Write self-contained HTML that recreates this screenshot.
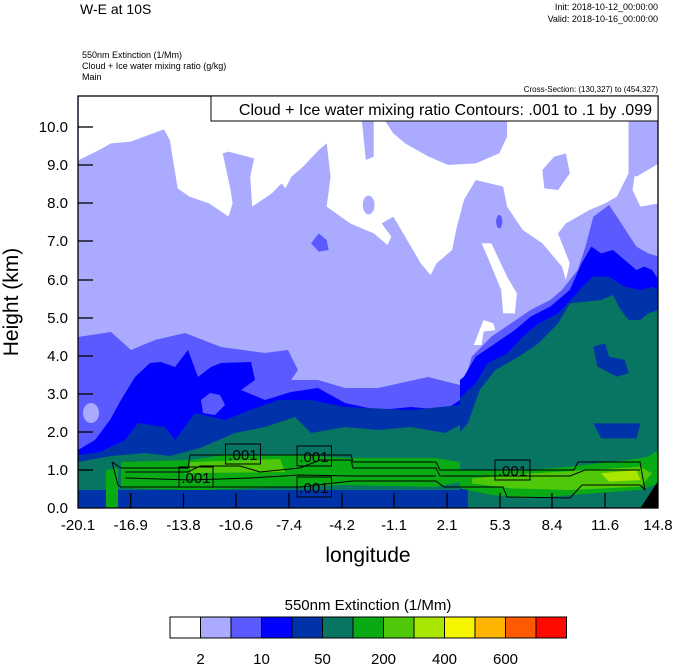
<!DOCTYPE html>
<html><head><meta charset="utf-8"><style>
body{margin:0;background:#fff;}
svg text{font-family:"Liberation Sans",sans-serif;}
</style></head><body>
<svg width="674" height="667" viewBox="0 0 674 667" xmlns="http://www.w3.org/2000/svg">
<defs><clipPath id="pc"><rect x="78" y="96" width="580" height="412"/></clipPath>
<clipPath id="lc"><rect x="78" y="325" width="382" height="183"/></clipPath></defs>
<text x="80" y="14" font-size="14">W-E at 10S</text>
<text x="658" y="10" font-size="9" text-anchor="end">Init: 2018-10-12_00:00:00</text>
<text x="658" y="22" font-size="9" text-anchor="end">Valid: 2018-10-16_00:00:00</text>
<text x="82" y="58" font-size="9">550nm Extinction   (1/Mm)</text>
<text x="82" y="69" font-size="9">Cloud + Ice water mixing ratio   (g/kg)</text>
<text x="82" y="80" font-size="9">Main</text>
<text x="658" y="92" font-size="8" text-anchor="end">Cross-Section: (130,327) to (454,327)</text>
<g clip-path="url(#pc)">
<rect x="78" y="96" width="580" height="412" fill="#aaaaff"/>
<g transform="translate(60,90) scale(0.39216,0.33333)">
<polygon fill="#fff" points="48,0 1527,0 1527,340 1480,350 1460,300 1470,220 1450,95 1450,250 1420,320 1390,340 1350,360 1290,400 1270,430 1300,520 1290,570 1280,530 1230,460 1180,420 1140,350 1130,290 1060,270 1030,330 1010,420 1000,480 960,520 945,555 920,520 880,440 850,380 820,400 845,440 835,465 800,430 740,400 680,350 690,260 680,160 660,180 620,230 590,260 575,295 565,280 540,310 490,350 485,260 495,205 430,185 415,190 435,300 440,340 430,380 380,340 330,320 300,295 280,150 265,118 180,155 130,160 100,180 48,210"/>
<polygon fill="#aaaaff" points="770,95 800,95 800,200 780,210"/>
<polygon fill="#aaaaff" points="830,95 1140,95 1140,140 1120,190 1060,220 990,225 940,200 880,160 850,130"/>
<polygon fill="#aaaaff" points="1230,240 1260,200 1290,190 1300,250 1270,300 1235,295"/>
<ellipse cx="787" cy="345" rx="15" ry="28" fill="#aaaaff"/>
<polygon fill="#aaaaff" points="1450,95 1527,95 1527,220 1470,260 1450,250"/>
<polygon fill="#fff" points="1075,460 1100,460 1140,560 1165,610 1160,670 1130,670 1125,600 1090,500"/>
<polygon fill="#fff" points="1055,765 1080,690 1105,700 1110,720 1080,725 1075,765"/>
<polygon fill="#5a5aff" points="640,460 660,430 680,450 685,480 660,485"/>
<ellipse cx="1120" cy="395" rx="8" ry="20" fill="#5a5aff"/>
<polygon fill="#5a5aff" points="48,740 80,730 130,725 150,760 190,790 260,780 330,790 400,770 460,760 520,770 560,800 600,820 620,840 590,860 620,870 660,850 720,880 780,860 850,870 900,850 960,850 1000,860 1030,880 1050,800 1100,740 1150,700 1200,660 1250,630 1280,600 1320,540 1340,470 1360,380 1400,345 1420,380 1470,470 1500,490 1527,500 1527,1254 48,1254"/>
<polygon fill="#0000ff" points="990,900 1030,860 1060,800 1110,760 1160,720 1200,680 1250,650 1300,600 1330,520 1355,470 1380,490 1410,480 1440,510 1470,540 1490,530 1510,540 1527,570 1527,1254 980,1254"/>
<polygon fill="#0033aa" points="1000,950 1040,900 1060,880 1090,820 1140,790 1180,740 1220,700 1270,670 1310,620 1340,580 1360,560 1400,560 1440,590 1480,600 1510,590 1527,600 1527,1254 980,1254"/>
<polygon fill="#077562" points="1000,1050 1040,1000 1070,900 1110,840 1170,800 1220,760 1270,700 1300,640 1340,635 1380,630 1410,615 1430,660 1450,690 1480,690 1500,670 1527,660 1527,1254 1040,1254 1040,1190 980,1190"/>
<polygon fill="#0033aa" points="1360,770 1390,760 1400,800 1440,810 1450,850 1420,860 1370,830"/>
<polygon fill="#0033aa" points="1360,1000 1480,1000 1470,1045 1380,1045"/>
<polygon fill="#0aaa14" points="950,1120 980,1140 1200,1140 1300,1130 1450,1110 1500,1100 1527,1080 1527,1180 1480,1200 1300,1215 1200,1225 1100,1215 1000,1190 950,1185"/>
<polygon fill="#50c80a" points="1050,1165 1200,1150 1350,1140 1480,1130 1510,1150 1480,1190 1300,1200 1150,1195 1050,1180"/>
<polygon fill="#a8e600" points="1380,1150 1470,1140 1480,1170 1400,1175"/>
<polygon fill="#000" points="1480,1254 1527,1170 1527,1254"/>
</g>
<g clip-path="url(#lc)">
<rect x="78" y="325" width="382" height="183" fill="#aaaaff"/>
<polygon fill="#5a5aff" points="78,337 111,332 131,350 155,340 185,333 221,347 265,353 288,350 298,370 291,380 318,380 345,388 378,388 428,377 460,385 460,508 78,508"/>
<ellipse cx="91" cy="413" rx="8" ry="10" fill="#aaaaff"/>
<polygon fill="#0000ff" points="78,450 95,440 110,420 121,400 135,377 150,363 161,362 175,367 188,350 198,377 211,367 221,363 251,362 255,380 241,390 265,400 291,392 318,388 345,403 378,410 411,407 445,410 460,400 460,508 78,508"/>
<polygon fill="#5a5aff" points="201,400 210,393 220,395 225,405 215,415 203,413"/>
<polygon fill="#0033aa" points="78,455 100,452 125,440 138,423 165,427 175,440 195,413 225,420 250,410 278,400 311,400 345,407 411,410 460,405 460,508 78,508"/>
<polygon fill="#077562" points="78,462 111,456 145,453 170,456 200,448 235,433 265,427 295,417 311,433 345,427 378,430 411,427 445,433 460,425 460,508 78,508"/>
<rect x="78" y="490" width="382" height="18" fill="#0033aa"/>
<polygon fill="#0aaa14" points="121,462 190,460 225,455 300,455 345,458 435,458 460,462 460,482 435,487 345,485 300,487 255,488 200,490 121,488"/>
<polygon fill="#0aaa14" points="106,470 118,468 118,508 106,508"/>
<polygon fill="#50c80a" points="190,462 280,459 285,472 190,473"/>
</g>
<g fill="none" stroke="#000" stroke-width="1">
<polyline points="112,462 121,468 188,468 190,455 351,455 353,462 436,462 440,470 574,470 578,462 640,462 645,490"/>
<polyline points="112,462 118,485 121,487 300,487 352,481 436,481 444,487 503,487 507,497 570,498 582,485 640,485 645,490"/>
<polyline points="125,472 188,472 200,466 240,466 260,472 300,468 320,460 351,460 353,468 436,468 440,476 570,476 585,470 640,470"/>
<polyline points="125,478 190,480 250,478 300,475 351,476 436,476"/>
</g>
</g>
<rect x="78" y="96" width="580" height="412" fill="none" stroke="#000" stroke-width="1.3"/>
<g fill="none" stroke="#000" stroke-width="1">
<rect x="179" y="467" width="34" height="20"/>
<rect x="225.5" y="444" width="35" height="20"/>
<rect x="297" y="446" width="34.5" height="20"/>
<rect x="297" y="477" width="34.5" height="20"/>
<rect x="495" y="460" width="35" height="20"/>
</g>
<rect x="211" y="96" width="447" height="25" fill="#fff" stroke="#000" stroke-width="1"/>
<text x="652" y="115" font-size="16" text-anchor="end">Cloud + Ice water mixing ratio Contours: .001 to .1 by .099</text>
<g font-size="15" text-anchor="middle">
<text x="196" y="483">.001</text><text x="243" y="460">.001</text><text x="314" y="462">.001</text><text x="314" y="493">.001</text><text x="512.5" y="476">.001</text>
</g>
<g stroke="#000" stroke-width="1.3">
<line x1="78" y1="470" x2="93" y2="470"/><line x1="78" y1="432" x2="93" y2="432"/><line x1="78" y1="394" x2="93" y2="394"/><line x1="78" y1="356" x2="93" y2="356"/><line x1="78" y1="318" x2="93" y2="318"/><line x1="78" y1="280" x2="93" y2="280"/><line x1="78" y1="241" x2="93" y2="241"/><line x1="78" y1="203" x2="93" y2="203"/><line x1="78" y1="165" x2="93" y2="165"/><line x1="78" y1="127" x2="93" y2="127"/>
<line x1="130.7" y1="508" x2="130.7" y2="493"/><line x1="183.5" y1="508" x2="183.5" y2="493"/><line x1="236" y1="508" x2="236" y2="493"/><line x1="289" y1="508" x2="289" y2="493"/><line x1="342" y1="508" x2="342" y2="493"/><line x1="394" y1="508" x2="394" y2="493"/><line x1="447" y1="508" x2="447" y2="493"/><line x1="500" y1="508" x2="500" y2="493"/><line x1="552" y1="508" x2="552" y2="493"/><line x1="605" y1="508" x2="605" y2="493"/>
</g>
<g font-size="15" text-anchor="end">
<text x="68" y="513">0.0</text><text x="68" y="475">1.0</text><text x="68" y="437">2.0</text><text x="68" y="399">3.0</text><text x="68" y="361">4.0</text><text x="68" y="323">5.0</text><text x="68" y="285">6.0</text><text x="68" y="246">7.0</text><text x="68" y="208">8.0</text><text x="68" y="170">9.0</text><text x="68" y="132">10.0</text>
</g>
<g font-size="15" text-anchor="middle">
<text x="78" y="530">-20.1</text><text x="130.7" y="530">-16.9</text><text x="183.5" y="530">-13.8</text><text x="236" y="530">-10.6</text><text x="289" y="530">-7.4</text><text x="342" y="530">-4.2</text><text x="394" y="530">-1.1</text><text x="447" y="530">2.1</text><text x="500" y="530">5.3</text><text x="552" y="530">8.4</text><text x="605" y="530">11.6</text><text x="658" y="530">14.8</text>
</g>
<text x="368" y="562" font-size="21" text-anchor="middle">longitude</text>
<text transform="translate(18,302) rotate(-90)" font-size="21" text-anchor="middle">Height (km)</text>
<text x="368" y="610" font-size="15" text-anchor="middle">550nm Extinction  (1/Mm)</text>
<g stroke="#000" stroke-width="1">
<rect x="170" y="617" width="30.5" height="21" fill="#ffffff"/>
<rect x="200.5" y="617" width="30.5" height="21" fill="#aaaaff"/>
<rect x="231" y="617" width="30.5" height="21" fill="#5a5aff"/>
<rect x="261.5" y="617" width="30.5" height="21" fill="#0000ff"/>
<rect x="292" y="617" width="30.5" height="21" fill="#0033aa"/>
<rect x="322.5" y="617" width="30.5" height="21" fill="#077562"/>
<rect x="353" y="617" width="30.5" height="21" fill="#0aaa14"/>
<rect x="383.5" y="617" width="30.5" height="21" fill="#50c80a"/>
<rect x="414" y="617" width="30.5" height="21" fill="#a8e600"/>
<rect x="444.5" y="617" width="30.5" height="21" fill="#f5f500"/>
<rect x="475" y="617" width="30.5" height="21" fill="#ffb400"/>
<rect x="505.5" y="617" width="30.5" height="21" fill="#ff5a00"/>
<rect x="536" y="617" width="30.5" height="21" fill="#ff0a00"/>
</g>
<g font-size="15" text-anchor="middle">
<text x="200.5" y="664">2</text><text x="261.5" y="664">10</text><text x="322.5" y="664">50</text><text x="383.5" y="664">200</text><text x="444.5" y="664">400</text><text x="505.5" y="664">600</text>
</g>
</svg>
</body></html>
